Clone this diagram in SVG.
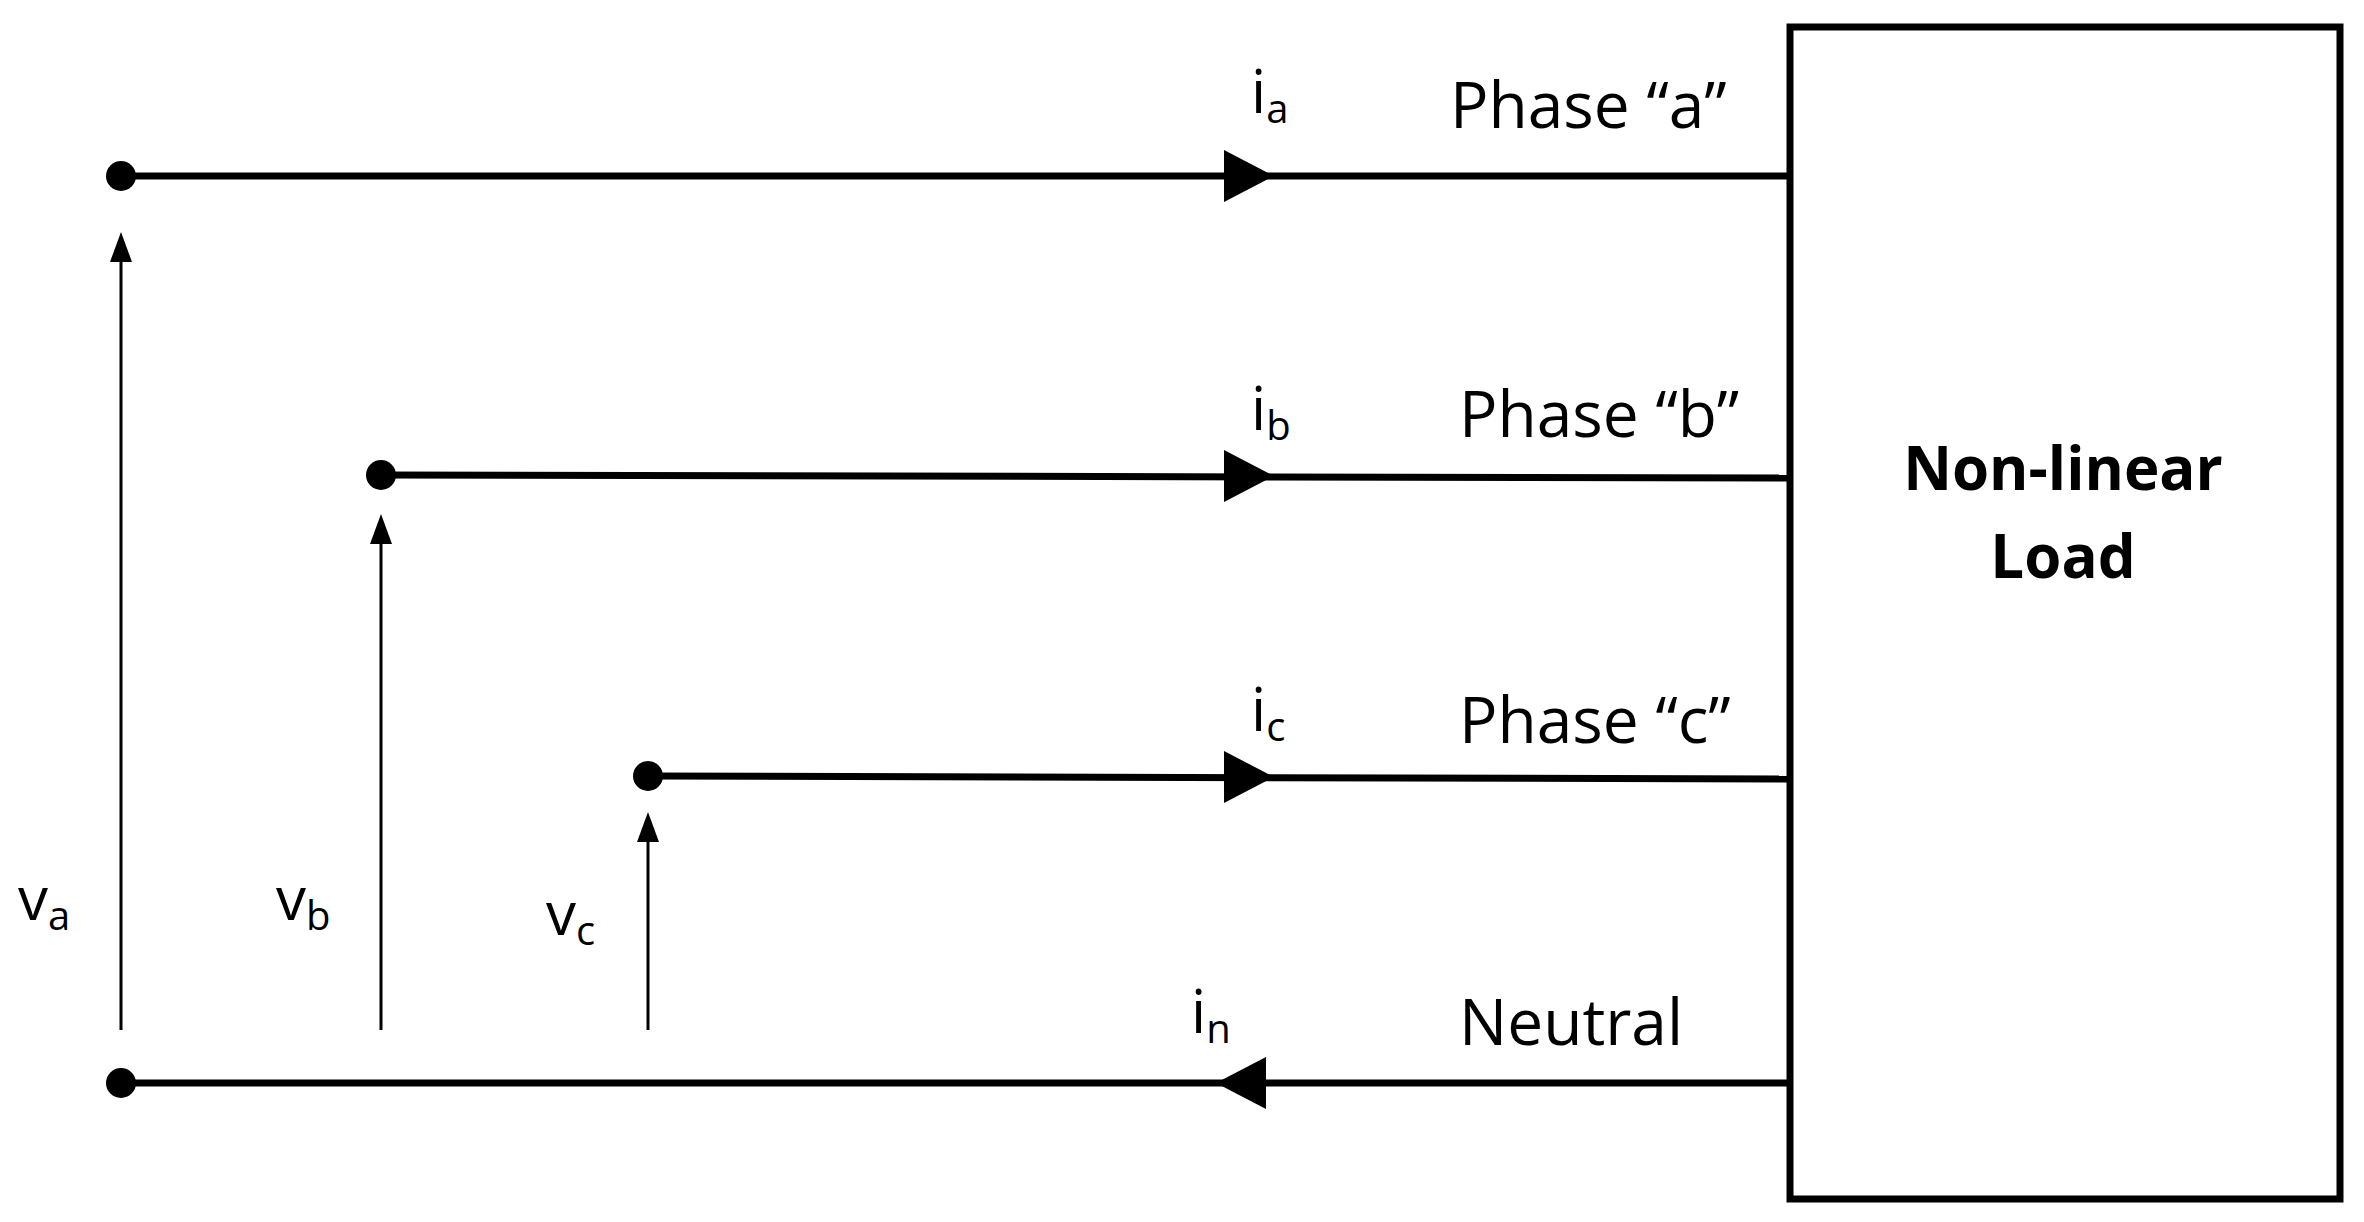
<svg xmlns="http://www.w3.org/2000/svg" width="2364" height="1222" viewBox="0 0 2364 1222">
<style>
.w{stroke:#000;stroke-width:7;fill:none}
.v{stroke:#000;stroke-width:3;fill:none}
text{font-family:"Open Sans","Liberation Sans",sans-serif;font-size:60px;fill:#000}
.p{font-size:64px}
.s{font-size:40px}
.b{font-weight:bold}
</style>
<rect width="2364" height="1222" fill="#fff"/>
<g id="load"><rect x="1790" y="27" width="550" height="1172" fill="#fff" stroke="#000" stroke-width="7"/>
<text class="b" x="2063" y="490" text-anchor="middle">Non-linear</text>
<text class="b" x="2063" y="578" text-anchor="middle">Load</text></g>
<g id="connectors">
<line class="w" x1="121" y1="176" x2="1790" y2="176"/>
<line class="w" x1="381" y1="475" x2="1790" y2="478"/>
<line class="w" x1="648" y1="776" x2="1790" y2="779"/>
<line class="w" x1="121" y1="1083" x2="1790" y2="1083"/>
<polygon points="1224,150 1274,176 1224,202"/>
<polygon points="1224,450 1274,476 1224,502"/>
<polygon points="1224,751 1274,777 1224,803"/>
<polygon points="1266,1057 1216,1083 1266,1109"/>
<circle cx="121" cy="176" r="15"/><circle cx="381" cy="475" r="15"/><circle cx="648" cy="776" r="15"/><circle cx="121" cy="1083" r="15"/>
<line class="v" x1="121" y1="1030" x2="121" y2="255"/><polygon points="110,262 121,232 132,262"/>
<line class="v" x1="381" y1="1030" x2="381" y2="537"/><polygon points="370,544 381,514 392,544"/>
<line class="v" x1="648" y1="1030" x2="648" y2="835"/><polygon points="637,842 648,812 659,842"/>
</g>
<g id="labels">
<text x="1251" y="113">i<tspan class="s" dy="10">a</tspan></text>
<text x="1251" y="430">i<tspan class="s" dy="10">b</tspan></text>
<text x="1251" y="731">i<tspan class="s" dy="10">c</tspan></text>
<text x="1191" y="1033">i<tspan class="s" dy="10">n</tspan></text>
<text x="18" y="920">v<tspan class="s" dy="10">a</tspan></text>
<text x="276" y="920">v<tspan class="s" dy="10">b</tspan></text>
<text x="546" y="935">v<tspan class="s" dy="10">c</tspan></text>
<text class="p" x="1450" y="128">Phase “a”</text>
<text class="p" x="1459" y="437">Phase “b”</text>
<text class="p" x="1459" y="743">Phase “c”</text>
<text class="p" x="1459" y="1045">Neutral</text>
</g>
</svg>
